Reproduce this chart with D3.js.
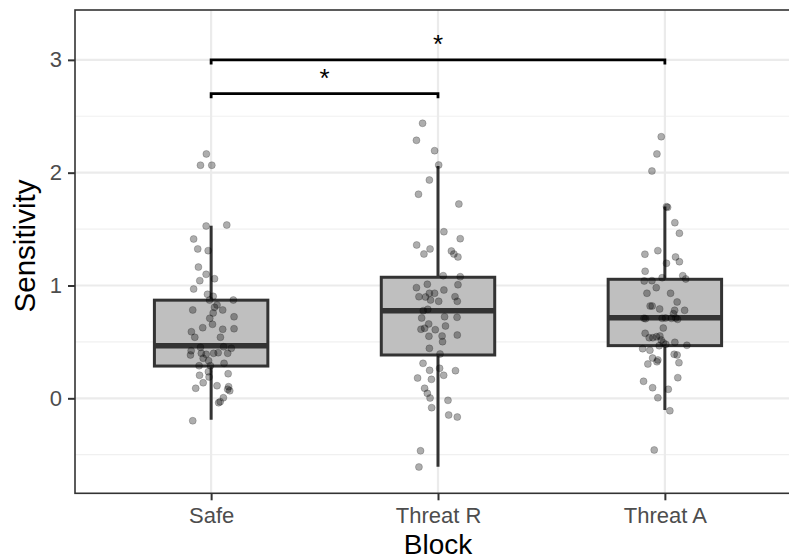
<!DOCTYPE html>
<html>
<head>
<meta charset="utf-8">
<script src="https://cdn.jsdelivr.net/npm/d3@7"></script>
<style>
  body { margin: 0; background: #fff; }
  svg { display: block; font-family: "Liberation Sans", Arial, sans-serif; }
</style>
</head>
<body>
<svg id="chart" width="789" height="559"></svg>
<script>
// categories and box statistics
const blocks = ["Safe", "Threat R", "Threat A"];
const whiskerLow  = [-0.19, -0.606, -0.104];
const q1          = [0.286, 0.384, 0.467];
const medians     = [0.466, 0.777, 0.715];
const q3          = [0.87, 1.073, 1.055];
const whiskerHigh = [1.53, 2.06, 1.70];

// jittered raw points: [jitter (in category units), sensitivity]
const safePoints = [
  [-0.021, 2.166], [-0.047, 2.066], [0.003, 2.066], [-0.022, 1.527], [0.069, 1.536],
  [-0.077, 1.412], [-0.059, 1.324], [-0.013, 1.309], [-0.056, 1.163], [-0.022, 1.099],
  [-0.050, 1.043], [0.015, 1.060], [-0.077, 0.969], [-0.016, 0.922], [0.009, 0.904],
  [-0.007, 0.871], [0.098, 0.871], [0.026, 0.827], [-0.081, 0.783], [0.015, 0.807],
  [0.051, 0.783], [0.009, 0.756], [0.101, 0.723], [-0.006, 0.709], [0.006, 0.656],
  [-0.037, 0.626], [0.051, 0.612], [0.101, 0.617], [-0.087, 0.590], [-0.072, 0.541],
  [0.041, 0.541], [-0.088, 0.422], [-0.091, 0.384], [-0.047, 0.452], [-0.043, 0.399],
  [-0.035, 0.355], [-0.022, 0.390], [0.011, 0.399], [0.031, 0.404], [0.055, 0.457],
  [0.073, 0.399], [0.089, 0.443], [-0.011, 0.333], [-0.053, 0.289], [-0.003, 0.289],
  [0.057, 0.310], [-0.012, 0.236], [-0.051, 0.204], [-0.009, 0.189], [0.075, 0.218],
  [-0.035, 0.138], [-0.068, 0.089], [0.026, 0.112], [0.077, 0.103], [0.073, 0.080],
  [0.082, 0.067], [0.054, 0.005], [0.040, -0.030], [0.033, -0.039], [-0.081, -0.199]
];
const threatRPoints = [
  [-0.068, 2.438], [-0.095, 2.287], [-0.015, 2.195], [0.003, 2.068], [-0.038, 1.935],
  [-0.086, 1.809], [0.092, 1.722], [0.026, 1.477], [0.098, 1.415], [-0.094, 1.359],
  [-0.035, 1.324], [-0.062, 1.279], [0.059, 1.306], [0.070, 1.279], [0.088, 1.253],
  [0.023, 1.087], [0.098, 1.078], [-0.047, 1.011], [0.088, 1.007], [-0.095, 0.981],
  [0.026, 0.960], [-0.084, 0.901], [-0.055, 0.898], [-0.038, 0.931], [-0.015, 0.931],
  [0.075, 0.901], [-0.033, 0.871], [0.003, 0.860], [0.085, 0.860], [-0.065, 0.777],
  [-0.045, 0.789], [-0.072, 0.712], [0.029, 0.723], [0.084, 0.718], [-0.041, 0.659],
  [0.033, 0.641], [-0.075, 0.612], [-0.059, 0.621], [-0.012, 0.608], [-0.040, 0.550],
  [0.018, 0.552], [0.085, 0.561], [0.020, 0.502], [-0.038, 0.443], [0.009, 0.393],
  [-0.066, 0.310], [-0.037, 0.248], [0.007, 0.266], [0.025, 0.204], [0.077, 0.245],
  [-0.090, 0.180], [-0.029, 0.168], [-0.059, 0.089], [-0.047, 0.044], [-0.035, 0.003],
  [0.044, -0.018], [-0.028, -0.083], [0.047, -0.148], [0.085, -0.166], [-0.077, -0.465],
  [-0.084, -0.609]
];
const threatAPoints = [
  [-0.016, 2.319], [-0.035, 2.166], [-0.057, 2.015], [0.007, 1.699], [0.012, 1.693],
  [0.044, 1.557], [0.064, 1.463], [-0.088, 1.277], [-0.031, 1.309], [0.047, 1.253],
  [0.064, 1.211], [0.007, 1.197], [-0.087, 1.126], [-0.012, 1.069], [0.079, 1.087],
  [0.092, 1.058], [-0.091, 1.040], [-0.057, 1.043], [-0.038, 0.981], [-0.079, 0.931],
  [0.025, 0.931], [0.054, 0.854], [-0.065, 0.818], [-0.056, 0.818], [-0.023, 0.792],
  [0.043, 0.780], [0.087, 0.780], [0.038, 0.750], [-0.092, 0.709], [-0.085, 0.706],
  [-0.012, 0.709], [0.003, 0.712], [0.029, 0.709], [0.048, 0.712], [0.056, 0.700],
  [-0.007, 0.623], [-0.087, 0.576], [-0.069, 0.537], [-0.053, 0.537], [-0.037, 0.546],
  [-0.022, 0.552], [-0.016, 0.517], [-0.007, 0.493], [0.004, 0.479], [-0.025, 0.466],
  [0.044, 0.496], [0.097, 0.470], [-0.098, 0.440], [-0.066, 0.426], [0.041, 0.390],
  [0.054, 0.384], [-0.054, 0.357], [-0.035, 0.324], [-0.031, 0.340], [-0.075, 0.304],
  [0.062, 0.316], [0.057, 0.183], [-0.094, 0.151], [-0.054, 0.094], [0.015, 0.080],
  [-0.031, 0.005], [0.022, -0.110], [-0.047, -0.458]
];

const yTicks = [0, 1, 2, 3];
const yMinor = [-0.5, 0.5, 1.5, 2.5];

// significance brackets
const brackets = [
  { from: "Safe", to: "Threat R", y: 2.7, label: "*" },
  { from: "Safe", to: "Threat A", y: 3.0, label: "*" }
];

const pointsByBlock = [safePoints, threatRPoints, threatAPoints];

// layout
const panel = { left: 75, top: 10, right: 801, bottom: 493.3 };
const svg = d3.select("#chart");

const x = d3.scalePoint()
  .domain(blocks)
  .range([panel.left, panel.right])
  .padding(0.6);
const step = x.step();

const y = d3.scaleLinear()
  .domain([-0.842, 3.442])
  .range([panel.bottom, panel.top]);

// panel grid
const grid = svg.append("g");
grid.selectAll(".minor")
  .data(yMinor)
  .join("line")
  .attr("x1", panel.left).attr("x2", panel.right)
  .attr("y1", d => y(d)).attr("y2", d => y(d))
  .attr("stroke", "#F0F0F0").attr("stroke-width", 1.2);
grid.selectAll(".major")
  .data(yTicks)
  .join("line")
  .attr("x1", panel.left).attr("x2", panel.right)
  .attr("y1", d => y(d)).attr("y2", d => y(d))
  .attr("stroke", "#EBEBEB").attr("stroke-width", 2.2);
grid.selectAll(".vmajor")
  .data(blocks)
  .join("line")
  .attr("x1", d => x(d)).attr("x2", d => x(d))
  .attr("y1", panel.top).attr("y2", panel.bottom)
  .attr("stroke", "#EBEBEB").attr("stroke-width", 2.2);

// boxplots
const boxW = 0.5 * step;
const boxes = svg.append("g")
  .selectAll("g")
  .data(blocks)
  .join("g");

boxes.append("line") // whisker
  .attr("x1", d => x(d)).attr("x2", d => x(d))
  .attr("y1", (d, i) => y(whiskerLow[i]))
  .attr("y2", (d, i) => y(whiskerHigh[i]))
  .attr("stroke", "#333333").attr("stroke-width", 3);

boxes.append("rect")
  .attr("x", d => x(d) - boxW / 2)
  .attr("width", boxW)
  .attr("y", (d, i) => y(q3[i]))
  .attr("height", (d, i) => y(q1[i]) - y(q3[i]))
  .attr("fill", "#BFBFBF")
  .attr("stroke", "#333333").attr("stroke-width", 3);

boxes.append("line") // median
  .attr("x1", d => x(d) - boxW / 2).attr("x2", d => x(d) + boxW / 2)
  .attr("y1", (d, i) => y(medians[i])).attr("y2", (d, i) => y(medians[i]))
  .attr("stroke", "#333333").attr("stroke-width", 5.5);

// jittered points
const pts = svg.append("g");
blocks.forEach((b, i) => {
  pts.selectAll(null)
    .data(pointsByBlock[i])
    .join("circle")
    .attr("cx", d => x(b) + d[0] * step)
    .attr("cy", d => y(d[1]))
    .attr("r", 3.5)
    .attr("fill", "rgba(0,0,0,0.32)")
    .attr("stroke", "rgba(0,0,0,0.2)")
    .attr("stroke-width", 1);
});

// significance brackets
const sig = svg.append("g");
const tip = 0.04;
brackets.forEach(br => {
  const x1 = x(br.from), x2 = x(br.to);
  sig.append("path")
    .attr("d", d3.line()([
      [x1, y(br.y - tip)], [x1, y(br.y)], [x2, y(br.y)], [x2, y(br.y - tip)]
    ]))
    .attr("fill", "none")
    .attr("stroke", "#000")
    .attr("stroke-width", 2.8);
  sig.append("text")
    .attr("x", (x1 + x2) / 2)
    .attr("y", y(br.y) - 7)
    .attr("text-anchor", "middle")
    .attr("font-size", 26)
    .attr("fill", "#000")
    .text(br.label);
});

// panel border
svg.append("rect")
  .attr("x", panel.left).attr("y", panel.top)
  .attr("width", panel.right - panel.left)
  .attr("height", panel.bottom - panel.top)
  .attr("fill", "none")
  .attr("stroke", "#333333").attr("stroke-width", 1.6);

// axes
const yAxis = svg.append("g")
  .attr("transform", `translate(${panel.left},0)`)
  .call(d3.axisLeft(y).tickValues(yTicks).tickFormat(d3.format("d")).tickSize(7).tickPadding(6));
const xAxis = svg.append("g")
  .attr("transform", `translate(0,${panel.bottom})`)
  .call(d3.axisBottom(x).tickSize(7).tickPadding(7.5));

[yAxis, xAxis].forEach(ax => {
  ax.select(".domain").remove();
  ax.selectAll(".tick line").attr("stroke", "#333333").attr("stroke-width", 2);
  ax.selectAll(".tick text")
    .attr("fill", "#4D4D4D")
    .attr("font-size", 22)
    .attr("font-family", "Liberation Sans, Arial, sans-serif");
});

// titles
svg.append("text")
  .attr("x", (panel.left + panel.right) / 2)
  .attr("y", 554)
  .attr("text-anchor", "middle")
  .attr("font-size", 28)
  .attr("fill", "#000")
  .text("Block");

svg.append("text")
  .attr("transform", `translate(35,246) rotate(-90)`)
  .attr("text-anchor", "middle")
  .attr("font-size", 29.5)
  .attr("fill", "#000")
  .text("Sensitivity");
</script>
</body>
</html>
